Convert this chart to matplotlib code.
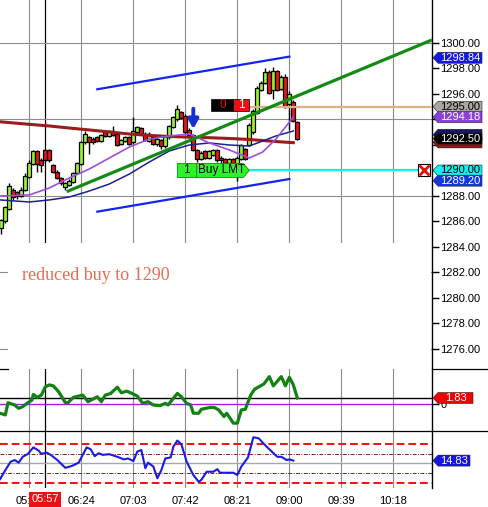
import numpy as np
import matplotlib
matplotlib.use("Agg")
import matplotlib.pyplot as plt
from matplotlib.patches import Polygon, Rectangle
from matplotlib.lines import Line2D

plt.rcParams["font.family"] = ["Liberation Sans", "DejaVu Sans"]

# ---- price bars (3 minute bars, first bar 05:24) ----
BAR_START = "05:24"
BAR_MIN = 3
opens = [1285.5, 1286.0, 1287.0, 1288.5, 1288.3, 1288.0, 1288.5, 1289.5, 1290.5, 1291.5,
         1290.8, 1291.6, 1291.6, 1290.4, 1289.9, 1289.4, 1288.7, 1288.9, 1289.1, 1289.8,
         1290.5, 1292.2, 1292.6, 1292.5, 1292.6, 1292.3, 1293.0, 1292.7, 1293.1, 1292.9,
         1292.1, 1292.3, 1292.6, 1292.2, 1293.0, 1293.3, 1292.9, 1292.3, 1292.6, 1292.1,
         1292.4, 1291.9, 1292.6, 1293.4, 1294.0, 1294.6, 1294.3, 1293.2, 1292.8, 1291.6,
         1290.9, 1291.5, 1291.0, 1291.2, 1291.6, 1291.0, 1290.9, 1290.6, 1290.9, 1290.5,
         1290.9, 1291.7, 1292.0, 1293.0, 1294.5, 1296.3, 1296.9, 1297.7, 1296.3, 1297.8,
         1296.4, 1297.3, 1295.2, 1295.4, 1293.8]
closes = [1286.1, 1287.1, 1288.8, 1287.9, 1288.0, 1288.5, 1289.6, 1290.6, 1291.5, 1290.5,
          1290.4, 1290.8, 1290.8, 1289.9, 1289.4, 1289.0, 1289.0, 1289.2, 1289.8, 1290.6,
          1292.2, 1292.9, 1292.2, 1292.2, 1292.3, 1292.8, 1292.7, 1293.1, 1292.8, 1292.0,
          1292.4, 1292.6, 1292.1, 1293.1, 1293.4, 1292.9, 1292.4, 1292.9, 1292.1, 1292.5,
          1291.9, 1292.7, 1293.5, 1294.2, 1294.8, 1294.1, 1293.0, 1292.8, 1291.6, 1290.9,
          1291.4, 1291.0, 1291.5, 1291.6, 1290.8, 1290.8, 1290.6, 1290.9, 1290.5, 1291.0,
          1292.0, 1290.9, 1293.6, 1294.7, 1296.5, 1296.9, 1297.7, 1296.1, 1297.8, 1296.3,
          1297.3, 1295.0, 1296.0, 1293.9, 1292.5]
highs = [1286.2, 1287.2, 1289.0, 1288.6, 1288.4, 1288.7, 1289.8, 1290.8, 1291.6, 1291.6,
         1291.0, 1291.7, 1291.7, 1290.5, 1290.0, 1289.5, 1289.1, 1289.3, 1289.9, 1290.7,
         1292.3, 1293.1, 1292.7, 1292.6, 1292.7, 1292.9, 1293.1, 1293.2, 1293.5, 1293.0,
         1292.5, 1292.7, 1292.7, 1294.2, 1293.5, 1293.4, 1293.0, 1293.0, 1292.7, 1292.6,
         1292.5, 1292.8, 1293.6, 1294.3, 1295.1, 1294.7, 1294.4, 1293.3, 1292.9, 1291.7,
         1291.5, 1291.6, 1291.6, 1291.7, 1291.7, 1291.1, 1291.0, 1291.0, 1291.0, 1291.1,
         1292.1, 1291.8, 1293.7, 1294.8, 1296.6, 1297.0, 1298.0, 1297.9, 1298.1, 1297.9,
         1297.5, 1297.6, 1296.2, 1295.5, 1293.9]
lows = [1285.0, 1285.9, 1286.9, 1287.7, 1287.8, 1287.9, 1288.4, 1289.4, 1290.4, 1289.9,
        1289.9, 1290.6, 1290.7, 1289.8, 1289.3, 1288.9, 1288.5, 1288.8, 1289.0, 1289.7,
        1290.4, 1292.1, 1291.3, 1292.1, 1292.2, 1292.2, 1292.6, 1292.6, 1292.7, 1291.9,
        1292.0, 1292.2, 1292.0, 1292.1, 1292.9, 1292.8, 1292.3, 1292.2, 1292.0, 1291.9,
        1291.7, 1291.8, 1292.5, 1293.3, 1293.9, 1294.0, 1292.9, 1292.7, 1291.5, 1290.7,
        1290.8, 1290.9, 1290.9, 1291.1, 1290.7, 1290.6, 1290.5, 1290.5, 1290.4, 1289.2,
        1290.8, 1290.8, 1291.9, 1292.9, 1294.4, 1296.2, 1296.8, 1296.0, 1295.6, 1296.2,
        1296.3, 1294.9, 1293.2, 1293.8, 1292.4]

# ---- moving averages ----
ma_times = ["05:23", "05:45", "06:00", "06:15", "06:30", "06:45", "07:00", "07:15",
            "07:30", "07:45", "08:00", "08:15", "08:30", "08:40", "08:50", "09:03"]
ma_slow = [1293.82, 1293.62, 1293.49, 1293.33, 1293.18, 1293.02, 1292.86, 1292.75,
           1292.67, 1292.61, 1292.57, 1292.51, 1292.43, 1292.35, 1292.27, 1292.18]
ma_mid = [1287.69, 1287.53, 1287.69, 1287.92, 1288.39, 1288.94, 1289.72, 1290.67,
          1291.53, 1292.00, 1292.16, 1292.00, 1291.92, 1292.31, 1292.71, 1293.10]
ma_fast = [1288.00, 1288.08, 1288.63, 1289.41, 1290.12, 1290.98, 1291.84, 1292.47,
           1292.71, 1292.86, 1292.16, 1291.61, 1290.98, 1291.45, 1292.47, 1294.18]

# ---- drawn lines ----
trend_times = ["06:13", "10:47"]
trend_prices = [1288.34, 1300.24]
chan_times = ["06:36", "09:00"]
chan_upper = [1296.37, 1298.93]
chan_lower = [1286.77, 1289.33]

# ---- orders ----
order_time = "08:30"
order_price = 1290.00
order_qty = "1"
order_text = "Buy LMT"
cancel_time = "10:41"
target_price = 1295.00
target_counts = ["0", "1"]
signal_time = "07:48"
signal_prices = [1294.85, 1293.25]
note_text = "reduced buy to 1290"

# ---- right side price tags (the maroon and navy tags sit behind the black one) ----
tag_prices = [1298.84, 1295.00, 1294.18, 1292.20, 1292.80, 1292.50, 1290.00, 1289.20]
tag_texts = ["1298.84", "1295.00", "1294.18", "", "", "1292.50", "1290.00", "1289.20"]
tag_colors = ["#1418e6", "#a9a8a0", "#8a3fd6", "#8b1414", "#14146e", "#000000", "#10f0f0", "#1436e0"]
tag_text_colors = ["white", "black", "white", "white", "white", "white", "black", "white"]

# ---- oscillator 1 ----
osc1_times = ["05:23", "05:27", "05:29", "05:34", "05:37", "05:40", "05:44", "05:47", "05:48", "05:51",
              "05:54", "05:57", "06:00", "06:03", "06:07", "06:12", "06:14", "06:18", "06:25", "06:29",
              "06:36", "06:39", "06:42", "06:46", "06:51", "06:54", "06:58", "07:02", "07:06", "07:10",
              "07:14", "07:18", "07:23", "07:27", "07:29", "07:36", "07:39", "07:43", "07:46", "07:48",
              "07:52", "07:54", "08:01", "08:04", "08:07", "08:11", "08:13", "08:18", "08:21", "08:24",
              "08:27", "08:31", "08:34", "08:41", "08:45", "08:48", "08:54", "08:57", "09:00", "09:03",
              "09:06"]
osc1_vals = [-2.8, -3.3, 0.4, -0.3, -1.3, -0.8, 0.4, 1.2, 2.9, 2.0,
             2.7, 5.2, 5.8, 5.5, 3.7, 0.4, 0.4, 2.0, 2.7, 0.7,
             2.2, 0.7, 2.7, 3.2, 5.1, 3.4, 3.9, 3.2, 2.4, 0.2,
             0.7, -0.3, -0.5, 0.2, -0.3, 3.2, 2.2, 0.2, -0.3, -2.8,
             -2.8, -1.6, -1.0, -1.1, -1.8, -3.8, -2.8, -5.8, -5.8, -1.8,
             -1.6, 2.7, 4.5, 6.1, 8.3, 5.5, 8.3, 5.5, 8.1, 5.8,
             1.83]
osc1_level = 1.83

# ---- oscillator 2 ----
osc2_times = ["05:23", "05:27", "05:31", "05:34", "05:37", "05:40", "05:44", "05:48", "05:52", "05:54",
              "05:58", "06:01", "06:06", "06:12", "06:17", "06:22", "06:28", "06:31", "06:34", "06:37",
              "06:40", "06:45", "06:51", "06:56", "06:59", "07:03", "07:06", "07:09", "07:12", "07:14",
              "07:18", "07:21", "07:24", "07:27", "07:31", "07:33", "07:36", "07:39", "07:43", "07:48",
              "07:52", "07:54", "07:58", "08:03", "08:06", "08:08", "08:18", "08:21", "08:24", "08:29",
              "08:33", "08:37", "08:43", "08:51", "08:54", "08:58", "09:00", "09:03"]
osc2_vals = [9.1, 11.9, 14.5, 15.0, 14.2, 16.0, 16.9, 18.9, 17.9, 16.9,
             17.3, 16.6, 15.0, 12.6, 13.2, 14.2, 18.9, 18.3, 16.2, 17.1,
             16.6, 16.8, 16.0, 15.2, 15.5, 14.7, 17.6, 18.1, 12.5, 14.2,
             13.0, 9.4, 11.9, 15.5, 15.8, 19.1, 21.0, 19.9, 14.5, 10.4,
             8.3, 8.9, 11.4, 11.4, 12.2, 11.1, 11.1, 10.4, 13.0, 15.8,
             22.0, 21.7, 19.1, 16.0, 16.0, 15.0, 15.2, 14.83]
osc2_outer = [8, 20]
osc2_inner = [11, 17]
osc2_mid = 14

grid_times = ["05:45", "06:24", "07:03", "07:42", "08:21", "09:00", "09:39", "10:18"]
session_time = "05:57"
price_ticks = np.arange(1276, 1301, 2)
hidden_ticks = [1290, 1292, 1294]   # covered by tags on the reference
price_grid = [1276, 1282, 1288, 1294, 1300]


def hm(s):
    h, m = s.split(":")
    return int(h) * 60 + int(m)


def hms(lst):
    return np.array([hm(s) for s in lst], dtype=float)


W, H = 489, 507
XMIN, XMAX = 323.0, 647.0
fig = plt.figure(figsize=(W / 100, H / 100), dpi=100)
fig.patch.set_facecolor("white")


def box(l, t, r, b):
    return [l / W, 1 - b / H, (r - l) / W, (b - t) / H]


ax = fig.add_axes(box(0, 0, 432, 368))
ax1 = fig.add_axes(box(0, 369, 432, 431))
ax2 = fig.add_axes(box(0, 431, 432, 488))

ax.set_ylim(1274.51, 1303.37)
ax1.set_ylim(-8.18, 10.61)
ax2.set_ylim(6.40, 23.94)

for a in (ax, ax1, ax2):
    a.set_xlim(XMIN, XMAX)
    a.set_autoscale_on(False)
    a.set_facecolor("white")
    for s in ("left", "top", "bottom"):
        a.spines[s].set_visible(False)
    a.spines["right"].set_color("black")
    a.spines["right"].set_linewidth(1.0)
    a.yaxis.tick_right()
    for gt in grid_times:
        a.axvline(hm(gt), color="#8c8c8c", lw=0.8, zorder=1)
    a.axvline(hm(session_time), color="black", lw=0.9, zorder=1)

px_min = 432 / (XMAX - XMIN)          # pixels per minute
px_pt = 368 / (1303.37 - 1274.51)      # pixels per price point

# ---- main panel ----
for p in price_grid:
    ax.axhline(p, color="#8c8c8c", lw=0.8, zorder=1)
ax.set_xticks([])
ax.set_yticks(price_ticks)
ax.set_yticklabels(["" if v in hidden_ticks else f"{v:.2f}" for v in price_ticks])
ax.tick_params(axis="y", length=5, width=1, pad=1, labelsize=8, colors="black")

# blank note box covering the grid
ax.add_patch(Rectangle((8 / 432, 0), 423 / 432, 125 / 368, transform=ax.transAxes,
                       fc="white", ec="none", zorder=1.5))
ax.text(22 / 432, 0.25, note_text, transform=ax.transAxes, ha="left", va="center",
        color="#ee6a4c", fontsize=13, family="Liberation Serif", zorder=3)

t_bars = hm(BAR_START) + BAR_MIN * np.arange(len(opens))
for t, o, hi, lo, c in zip(t_bars, opens, highs, lows, closes):
    col = "#9cf03a" if c >= o else "#e8161a"
    ax.vlines(t, lo, hi, color="black", lw=1.0, zorder=3)
    ax.add_patch(Rectangle((t - 1.4, min(o, c)), 2.8, max(abs(c - o), 0.08),
                           fc=col, ec="black", lw=0.9, zorder=3.2))

tm = hms(ma_times)
ax.plot(tm, ma_slow, color="#981c1c", lw=2.2, zorder=4)
ax.plot(tm, ma_mid, color="#1e1e96", lw=1.1, zorder=4)
ax.plot(tm, ma_fast, color="#9a50e0", lw=1.2, zorder=4.1)

ax.plot(hms(trend_times), trend_prices, color="#148a14", lw=2.3, zorder=5, solid_capstyle="butt")
ax.plot(hms(chan_times), chan_upper, color="#1424f0", lw=1.6, zorder=5)
ax.plot(hms(chan_times), chan_lower, color="#1424f0", lw=1.6, zorder=5)

# signal arrow
st = hm(signal_time)
ax.annotate("", xy=(st, signal_prices[1]), xytext=(st, signal_prices[0]),
            arrowprops=dict(arrowstyle="-|>,head_length=0.55,head_width=0.3", color="#1432d2",
                            lw=2.8, mutation_scale=10, shrinkA=0, shrinkB=0), zorder=6)

# order lines and boxes
ot = hm(order_time)
ax.plot([ot, XMAX], [target_price, target_price], color="#e0b084", lw=1.6, zorder=4.5)
ct = hm(cancel_time)
ax.plot([ot, ct - 6 / px_min], [order_price, order_price], color="#10eef2", lw=1.6, zorder=4.5)
ax.plot([ct], [order_price], marker="s", ms=9, mfc="white", mec="black", mew=0.8, zorder=6)
ax.plot([ct], [order_price], marker="x", ms=6.5, mec="#e01010", mew=2, zorder=6.1)

# buy limit tag
hh = 7 / px_pt
x_tip = ot
x_r = ot - 6 / px_min
x_div = ot - 53 / px_min
x_l = ot - 72 / px_min
ax.add_patch(Polygon([(x_l, order_price - hh), (x_r, order_price - hh), (x_tip, order_price),
                      (x_r, order_price + hh), (x_l, order_price + hh)], closed=True,
                     fc="#2cf22c", ec="#118811", lw=0.6, zorder=6))
ax.plot([x_div, x_div], [order_price - hh, order_price + hh], color="#118811", lw=0.6, zorder=6.1)
ax.text((x_l + x_div) / 2, order_price, order_qty, ha="center", va="center", fontsize=8.5,
        color="black", zorder=6.2)
ax.text(x_div + 2 / px_min, order_price, order_text, ha="left", va="center", fontsize=8.5,
        color="black", zorder=6.2)

# target count box
bh = 6 / px_pt
yc = target_price + 1.5 / px_pt
ax.add_patch(Rectangle((ot - 38 / px_min, yc - bh), 22 / px_min, 2 * bh, fc="black", ec="black",
                       lw=0.5, zorder=6))
ax.add_patch(Rectangle((ot - 16 / px_min, yc - bh), 16 / px_min, 2 * bh, fc="#ee1010", ec="black",
                       lw=0.5, zorder=6))
ax.text(ot - 27 / px_min, yc, target_counts[0], ha="center", va="center", fontsize=8.5,
        color="#ee1010", zorder=6.2)
ax.text(ot - 8 / px_min, yc, target_counts[1], ha="center", va="center", fontsize=8.5,
        color="white", zorder=6.2)


def price_tag(a, val, text, fc, tc, right_px=482, h_px=11):
    bb = a.get_position()
    h_ax = bb.height * H
    ylo, yhi = a.get_ylim()
    h = h_px * (yhi - ylo) / h_ax
    x0 = 1 + 1 / 432
    x1 = 1 + 6 / 432
    x2 = 1 + (right_px - 432) / 432
    pts = [(x0, val), (x1, val + h / 2), (x2, val + h / 2), (x2, val - h / 2), (x1, val - h / 2)]
    a.add_patch(Polygon(pts, closed=True, transform=a.get_yaxis_transform(), fc=fc, ec="#222222",
                        lw=0.4, clip_on=False, zorder=7))
    if text:
        a.text((x1 + x2) / 2, val, text, transform=a.get_yaxis_transform(), ha="center",
               va="center", color=tc, fontsize=8, clip_on=False, zorder=7.1)


for p, txt, fc, tc in zip(tag_prices, tag_texts, tag_colors, tag_text_colors):
    price_tag(ax, p, txt, fc, tc)

# ---- oscillator 1 ----
ax1.set_xticks([])
ax1.set_yticks([0])
ax1.set_yticklabels(["0"])
ax1.tick_params(axis="y", length=5, width=1, pad=1, labelsize=8)
ax1.axhline(osc1_level, color="black", lw=1.0, zorder=2)
ax1.axhline(0, color="#a020e0", lw=1.0, zorder=2)
ax1.plot(hms(osc1_times), osc1_vals, color="#128212", lw=2.3, zorder=3)
price_tag(ax1, osc1_level, f"{osc1_level:.2f}", "#f00000", "white", right_px=473)

# ---- oscillator 2 ----
ax2.set_yticks([])
for v in osc2_outer:
    ax2.axhline(v, color="#f01010", lw=1.4, ls=(0, (4, 2)), zorder=2)
for v in osc2_inner:
    ax2.axhline(v, color="#802020", lw=0.7, ls=(0, (4, 1.5, 1, 1.5)), zorder=2)
ax2.axhline(osc2_mid, color="#a8a8a8", lw=1.0, zorder=2)
ax2.plot(hms(osc2_times), osc2_vals, color="#1a1ae6", lw=1.5, zorder=3)
price_tag(ax2, osc2_vals[-1], f"{osc2_vals[-1]:.2f}", "#1414e6", "white", right_px=470)

ax2.set_xticks(hms(grid_times))
ax2.set_xticklabels(grid_times)
ax2.tick_params(axis="x", length=0, pad=6, labelsize=8)
ax2.text(hm(session_time), -0.2, session_time, transform=ax2.get_xaxis_transform(),
         ha="center", va="center", fontsize=8, color="white", clip_on=False, zorder=8,
         bbox=dict(boxstyle="square,pad=0.2", fc="#ee1010", ec="none"))

# separators between panels
y_sep1 = 1 - 369 / H
y_sep2 = 1 - 431 / H
fig.add_artist(Line2D([0, 8 / W], [y_sep1, y_sep1], color="black", lw=0.9))
fig.add_artist(Line2D([432 / W, 1], [y_sep1, y_sep1], color="black", lw=0.9))
fig.add_artist(Line2D([0, 1], [y_sep2, y_sep2], color="black", lw=0.9))

fig.savefig("out.png", dpi=100, facecolor="white")
